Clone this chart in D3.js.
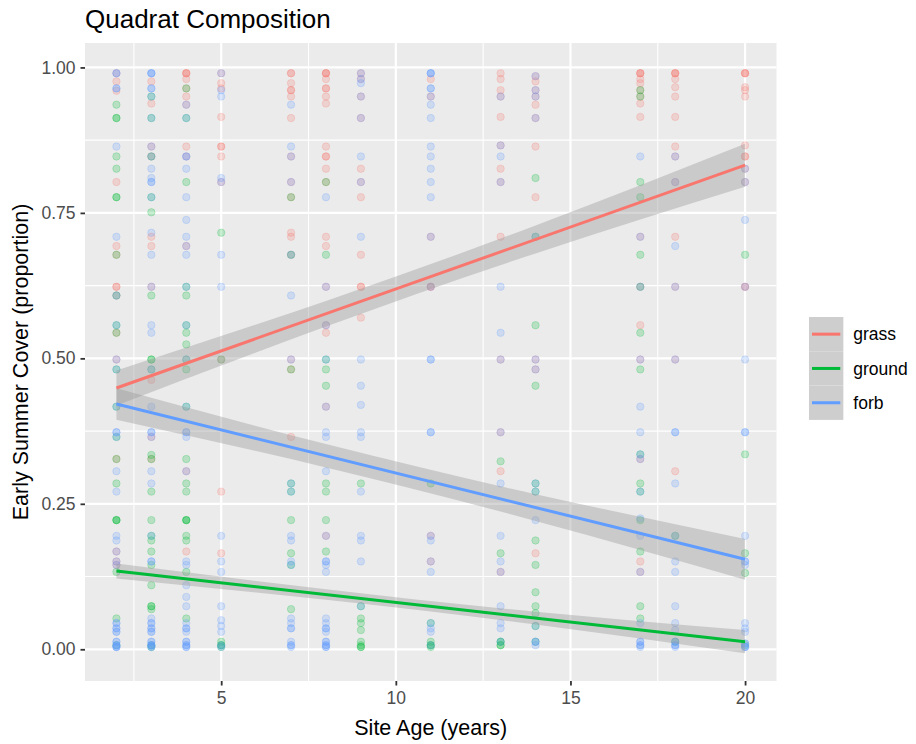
<!DOCTYPE html>
<html>
<head>
<meta charset="utf-8">
<script src="https://cdn.jsdelivr.net/npm/d3@7"></script>
<style>
  body { margin: 0; background: #fff; }
  text { font-family: "Liberation Sans", Arial, sans-serif; }
</style>
</head>
<body>
<div id="chart"></div>
<script>
// site ages (x positions of the quadrat columns)
const ages = [2, 3, 4, 5, 7, 8, 9, 11, 13, 14, 17, 18, 20];

// proportions per quadrat, one list per site age (same order as ages)
const grass = [
  [0.99, 0.976, 0.96, 0.803, 0.693, 0.678, 0.623, 0.623, 0.608, 0.544, 0.498, 0.327, 0.168, 0.151, 0.145],
  [0.976, 0.938, 0.864, 0.847, 0.709, 0.693, 0.623, 0.463, 0.365, 0.327],
  [0.99, 0.99, 0.99, 0.98, 0.964, 0.95, 0.936, 0.864, 0.847, 0.693, 0.306, 0.168],
  [0.99, 0.973, 0.964, 0.915, 0.864, 0.864, 0.847, 0.803, 0.498, 0.271, 0.165],
  [0.99, 0.99, 0.973, 0.961, 0.961, 0.95, 0.913, 0.847, 0.803, 0.777, 0.716, 0.709, 0.678, 0.498, 0.481, 0.365],
  [0.99, 0.99, 0.99, 0.98, 0.964, 0.964, 0.95, 0.938, 0.864, 0.847, 0.847, 0.826, 0.803, 0.709, 0.693, 0.623, 0.557, 0.544, 0.417, 0.195],
  [0.99, 0.98, 0.95, 0.913, 0.826, 0.803, 0.777, 0.678, 0.623, 0.623, 0.57],
  [0.98, 0.95, 0.709, 0.623, 0.623, 0.195, 0.151],
  [0.99, 0.98, 0.961, 0.95, 0.915, 0.866, 0.826, 0.803, 0.709, 0.498, 0.373, 0.306, 0.133],
  [0.985, 0.976, 0.961, 0.95, 0.936, 0.913, 0.864, 0.777, 0.498, 0.481, 0.165],
  [0.99, 0.99, 0.99, 0.98, 0.973, 0.961, 0.95, 0.938, 0.915, 0.709, 0.623, 0.557, 0.498, 0.327, 0.151, 0.133],
  [0.99, 0.99, 0.99, 0.98, 0.966, 0.95, 0.915, 0.864, 0.847, 0.803, 0.709, 0.623, 0.498, 0.306],
  [0.99, 0.99, 0.99, 0.966, 0.961, 0.95, 0.866, 0.847, 0.847, 0.826, 0.803, 0.623, 0.623]
];
const ground = [
  [0.936, 0.913, 0.913, 0.847, 0.826, 0.777, 0.777, 0.678, 0.608, 0.557, 0.544, 0.481, 0.417, 0.365, 0.327, 0.285, 0.222, 0.222, 0.222, 0.133, 0.053, 0.007],
  [0.95, 0.913, 0.847, 0.777, 0.751, 0.608, 0.498, 0.498, 0.481, 0.334, 0.327, 0.271, 0.222, 0.195, 0.187, 0.168, 0.145, 0.11, 0.074, 0.074, 0.069, 0.007, 0.004],
  [0.964, 0.913, 0.803, 0.623, 0.608, 0.557, 0.544, 0.524, 0.498, 0.481, 0.417, 0.327, 0.285, 0.271, 0.222, 0.222, 0.222, 0.195, 0.187, 0.133, 0.053],
  [0.716, 0.498, 0.013, 0.007, 0.007, 0.004],
  [0.777, 0.678, 0.481, 0.285, 0.271, 0.222, 0.165, 0.145, 0.069],
  [0.803, 0.678, 0.498, 0.481, 0.453, 0.285, 0.271, 0.222, 0.168],
  [0.285, 0.074, 0.053, 0.045, 0.033, 0.013, 0.007, 0.004, 0.004],
  [0.285, 0.045, 0.013, 0.007, 0.007, 0.004],
  [0.323, 0.165, 0.013, 0.013, 0.007, 0.007],
  [0.81, 0.709, 0.557, 0.453, 0.285, 0.271, 0.187, 0.145, 0.098, 0.074, 0.062, 0.04, 0.013],
  [0.961, 0.95, 0.803, 0.777, 0.678, 0.623, 0.544, 0.481, 0.335, 0.285, 0.271, 0.222, 0.168, 0.074, 0.053],
  [0.195, 0.013],
  [0.678, 0.335, 0.165, 0.131, 0.007]
];
const forb = [
  [0.99, 0.99, 0.964, 0.964, 0.864, 0.709, 0.608, 0.557, 0.498, 0.481, 0.417, 0.373, 0.373, 0.365, 0.306, 0.271, 0.195, 0.187, 0.168, 0.151, 0.145, 0.045, 0.045, 0.036, 0.036, 0.03, 0.03, 0.013, 0.013, 0.007, 0.007, 0.004, 0.004, 0.004],
  [0.99, 0.99, 0.99, 0.964, 0.964, 0.95, 0.913, 0.864, 0.847, 0.826, 0.81, 0.803, 0.803, 0.777, 0.716, 0.678, 0.623, 0.557, 0.544, 0.481, 0.417, 0.373, 0.373, 0.365, 0.306, 0.285, 0.195, 0.151, 0.151, 0.053, 0.045, 0.045, 0.036, 0.036, 0.03, 0.03, 0.013, 0.013, 0.007, 0.007, 0.007, 0.004, 0.004],
  [0.936, 0.913, 0.847, 0.847, 0.826, 0.777, 0.738, 0.709, 0.693, 0.678, 0.623, 0.557, 0.498, 0.417, 0.373, 0.373, 0.365, 0.306, 0.151, 0.145, 0.11, 0.09, 0.074, 0.045, 0.036, 0.036, 0.03, 0.013, 0.013, 0.007, 0.007, 0.004, 0.004],
  [0.99, 0.961, 0.95, 0.81, 0.803, 0.678, 0.623, 0.195, 0.151, 0.133, 0.074, 0.05, 0.04, 0.03, 0.007, 0.004],
  [0.936, 0.864, 0.847, 0.803, 0.678, 0.608, 0.498, 0.285, 0.271, 0.195, 0.187, 0.151, 0.145, 0.053, 0.045, 0.036, 0.036, 0.013, 0.007, 0.007, 0.004],
  [0.777, 0.623, 0.557, 0.498, 0.417, 0.373, 0.365, 0.306, 0.195, 0.151, 0.151, 0.145, 0.133, 0.053, 0.045, 0.036, 0.036, 0.03, 0.013, 0.013, 0.007, 0.007, 0.004, 0.004],
  [0.99, 0.98, 0.973, 0.95, 0.913, 0.847, 0.803, 0.709, 0.498, 0.453, 0.42, 0.373, 0.365, 0.271, 0.195, 0.187, 0.151, 0.074],
  [0.99, 0.99, 0.99, 0.964, 0.964, 0.95, 0.936, 0.913, 0.864, 0.847, 0.826, 0.803, 0.777, 0.709, 0.623, 0.498, 0.498, 0.373, 0.373, 0.195, 0.187, 0.151, 0.133, 0.045, 0.036, 0.03, 0.007],
  [0.95, 0.866, 0.847, 0.803, 0.623, 0.544, 0.498, 0.373, 0.285, 0.195, 0.151, 0.133, 0.074, 0.045, 0.036, 0.013],
  [0.985, 0.961, 0.95, 0.913, 0.709, 0.498, 0.481, 0.285, 0.271, 0.222, 0.04, 0.013, 0.013, 0.007],
  [0.847, 0.709, 0.623, 0.498, 0.417, 0.373, 0.335, 0.327, 0.271, 0.225, 0.195, 0.133, 0.045, 0.013, 0.013, 0.007, 0.007, 0.004],
  [0.847, 0.803, 0.693, 0.623, 0.498, 0.373, 0.373, 0.285, 0.195, 0.151, 0.133, 0.074, 0.045, 0.033, 0.013, 0.013, 0.007, 0.007, 0.004],
  [0.826, 0.803, 0.738, 0.623, 0.498, 0.373, 0.373, 0.195, 0.151, 0.151, 0.145, 0.045, 0.036, 0.03, 0.01, 0.01, 0.004, 0.004, 0.004]
];

// linear fits (geom_smooth, method lm) read at the ends, and the CI half width along x
const fitAges = [2, 8, 14, 20];
const grassFit = [0.449, 0.832];
const groundFit = [0.1346, 0.0131];
const forbFit = [0.4216, 0.1547];
const grassHalf = [0.03, 0.022, 0.024, 0.037];
const groundHalf = [0.013, 0.009, 0.011, 0.02];
const forbHalf = [0.027, 0.02, 0.023, 0.035];

const seriesNames = ["grass", "ground", "forb"];
const seriesColors = ["#F8766D", "#00BA38", "#619CFF"];

const xTicks = [5, 10, 15, 20];
const xMinor = [2.5, 7.5, 12.5, 17.5];
const yTicks = [0, 0.25, 0.5, 0.75, 1];
const yMinor = [0.125, 0.375, 0.625, 0.875];

const width = 916, height = 744;
const panel = { left: 85, right: 776.5, top: 43, bottom: 681 };

const svg = d3.select("#chart").append("svg")
  .attr("width", width)
  .attr("height", height);

svg.append("rect").attr("width", width).attr("height", height).attr("fill", "#fff");

const x = d3.scaleLinear().domain([1.1, 20.9]).range([panel.left, panel.right]);
const y = d3.scaleLinear().domain([-0.0545, 1.042]).range([panel.bottom, panel.top]);

// panel background
svg.append("rect")
  .attr("x", panel.left).attr("y", panel.top)
  .attr("width", panel.right - panel.left)
  .attr("height", panel.bottom - panel.top)
  .attr("fill", "#EBEBEB");

// grid
const grid = svg.append("g");
grid.selectAll(".xminor").data(xMinor).join("line")
  .attr("x1", d => x(d)).attr("x2", d => x(d))
  .attr("y1", panel.top).attr("y2", panel.bottom)
  .attr("stroke", "#fff").attr("stroke-width", 1.1);
grid.selectAll(".yminor").data(yMinor).join("line")
  .attr("y1", d => y(d)).attr("y2", d => y(d))
  .attr("x1", panel.left).attr("x2", panel.right)
  .attr("stroke", "#fff").attr("stroke-width", 1.1);
grid.selectAll(".xmajor").data(xTicks).join("line")
  .attr("x1", d => x(d)).attr("x2", d => x(d))
  .attr("y1", panel.top).attr("y2", panel.bottom)
  .attr("stroke", "#fff").attr("stroke-width", 2.2);
grid.selectAll(".ymajor").data(yTicks).join("line")
  .attr("y1", d => y(d)).attr("y2", d => y(d))
  .attr("x1", panel.left).attr("x2", panel.right)
  .attr("stroke", "#fff").attr("stroke-width", 2.2);

// points
const allSeries = [grass, ground, forb];
const points = allSeries.flatMap((s, si) =>
  s.flatMap((vals, ai) => vals.map(v => ({ age: ages[ai], v: v, si: si })))
);

svg.append("g").selectAll("circle").data(points).join("circle")
  .attr("cx", d => x(d.age))
  .attr("cy", d => y(d.v))
  .attr("r", 3.7)
  .attr("fill", d => seriesColors[d.si])
  .attr("fill-opacity", 0.22)
  .attr("stroke", d => seriesColors[d.si])
  .attr("stroke-opacity", 0.22)
  .attr("stroke-width", 1);

// smooth lines with ribbons
const fits = [grassFit, groundFit, forbFit];
const halves = [grassHalf, groundHalf, forbHalf];

const area = d3.area()
  .x(d => x(d.age))
  .y0(d => y(d.lo))
  .y1(d => y(d.hi))
  .curve(d3.curveNatural);

const line = d3.line()
  .x(d => x(d.age))
  .y(d => y(d.fit));

const smooth = svg.append("g");
fits.forEach((f, i) => {
  const fitScale = d3.scaleLinear().domain([2, 20]).range(f);
  const rib = fitAges.map((a, k) => ({
    age: a,
    fit: fitScale(a),
    lo: fitScale(a) - halves[i][k],
    hi: fitScale(a) + halves[i][k]
  }));
  smooth.append("path")
    .datum(rib)
    .attr("d", area)
    .attr("fill", "#999999")
    .attr("fill-opacity", 0.4);
  smooth.append("path")
    .datum([rib[0], rib[rib.length - 1]])
    .attr("d", line)
    .attr("fill", "none")
    .attr("stroke", seriesColors[i])
    .attr("stroke-width", 3);
});

// axes
const xAxis = svg.append("g")
  .attr("transform", `translate(0,${panel.bottom})`)
  .call(d3.axisBottom(x).tickValues(xTicks).tickSize(4.5).tickPadding(6).tickFormat(d3.format("d")));
const yAxis = svg.append("g")
  .attr("transform", `translate(${panel.left},0)`)
  .call(d3.axisLeft(y).tickValues(yTicks).tickSize(4.5).tickPadding(5).tickFormat(d3.format(".2f")));

[xAxis, yAxis].forEach(a => {
  a.select(".domain").remove();
  a.selectAll(".tick line").attr("stroke", "#333333").attr("stroke-width", 1.8);
  a.selectAll(".tick text")
    .attr("fill", "#4D4D4D")
    .style("font-size", "17.5px")
    .style("font-family", '"Liberation Sans", Arial, sans-serif');
});

// titles
svg.append("text")
  .attr("x", panel.left)
  .attr("y", 28)
  .style("font-size", "26px")
  .attr("fill", "#000")
  .text("Quadrat Composition");

svg.append("text")
  .attr("x", (panel.left + panel.right) / 2)
  .attr("y", 735)
  .attr("text-anchor", "middle")
  .style("font-size", "21.5px")
  .attr("fill", "#000")
  .text("Site Age (years)");

svg.append("text")
  .attr("transform", `translate(28,${(panel.top + panel.bottom) / 2}) rotate(-90)`)
  .attr("text-anchor", "middle")
  .style("font-size", "21.5px")
  .attr("fill", "#000")
  .text("Early Summer Cover (proportion)");

// legend
const keySize = 34.3;
const legend = svg.append("g").attr("transform", "translate(809,317)");
seriesNames.forEach((name, i) => {
  const g = legend.append("g").attr("transform", `translate(0,${i * keySize})`);
  g.append("rect")
    .attr("width", keySize).attr("height", keySize)
    .attr("fill", "#F2F2F2");
  g.append("rect")
    .attr("width", keySize).attr("height", keySize)
    .attr("fill", "#999999").attr("fill-opacity", 0.4);
  g.append("line")
    .attr("x1", 3).attr("x2", keySize - 3)
    .attr("y1", keySize / 2).attr("y2", keySize / 2)
    .attr("stroke", seriesColors[i]).attr("stroke-width", 3);
  g.append("text")
    .attr("x", keySize + 10)
    .attr("y", keySize / 2)
    .attr("dy", "0.35em")
    .style("font-size", "17.5px")
    .attr("fill", "#000")
    .text(name);
});
</script>
</body>
</html>
